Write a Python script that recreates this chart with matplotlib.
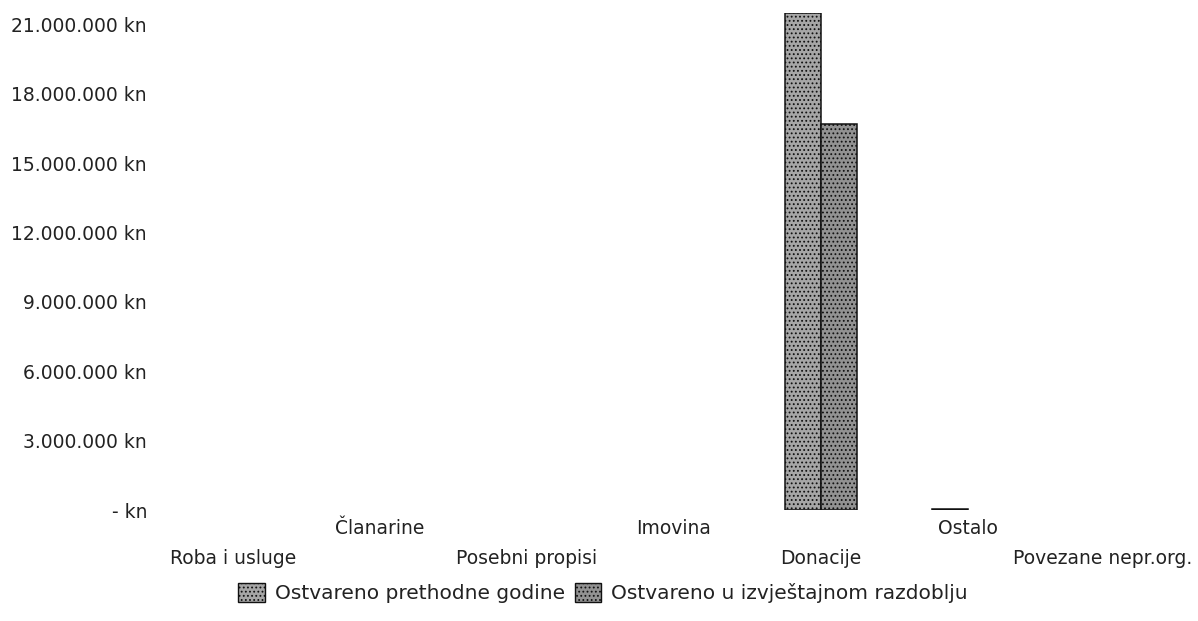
import matplotlib
matplotlib.use("Agg")
import matplotlib.pyplot as plt
from matplotlib.patches import Patch
import numpy as np

categories = ["Roba i usluge", "Članarine", "Posebni propisi", "Imovina",
              "Donacije", "Ostalo", "Povezane nepr.org."]
prev_year = [0, 0, 0, 0, 21500000, 60000, 0]
current = [0, 0, 0, 0, 16700000, 0, 0]
series_names = ["Ostvareno prethodne godine", "Ostvareno u izvještajnom razdoblju"]
yticks = [0, 3000000, 6000000, 9000000, 12000000, 15000000, 18000000, 21000000]

def fmt(v):
    if v == 0:
        return "- kn"
    return f"{v:,.0f}".replace(",", ".") + " kn"

plt.rcParams['font.family'] = ['DejaVu Sans']
plt.rcParams['hatch.color'] = '#d4d4d4'
plt.rcParams['hatch.linewidth'] = 0.8
fig = plt.figure(figsize=(11.98, 6.21), dpi=100)
L, R, B, T = 159.5, 1188.5, 510, 13
ax = fig.add_axes([L/1198, 1-B/621, (R-L)/1198, (B-T)/621])

x = np.arange(len(categories))
w = 0.245
styles = [dict(facecolor="#a6a6a6", hatch="...."),
          dict(facecolor="#929292", hatch="....")]
for k, (vals, off) in enumerate([(prev_year, -w/2), (current, w/2)]):
    edges = ["#111111" if v > 0 else "none" for v in vals]
    ax.bar(x + off, vals, w, edgecolor=edges, linewidth=1.1, **styles[k])

ax.set_xlim(-0.5, len(categories) - 0.5)
ax.set_ylim(0, 21500000)
ax.set_yticks(yticks)
ax.set_yticklabels([fmt(v) for v in yticks], fontsize=13.5, color="#222222")
ax.tick_params(axis="y", length=0, pad=9)
ax.set_xticks([])
for s in ax.spines.values():
    s.set_visible(False)

for i, c in enumerate(categories):
    off = -49 if i % 2 == 0 else -19
    dx = -12 if i == len(categories) - 1 else 0
    ax.annotate(c, xy=(i, 0), xycoords="data", xytext=(dx, off),
                textcoords="offset pixels", ha="center", va="center",
                fontsize=13.5, color="#222222")

handles = [Patch(edgecolor="#111111", linewidth=1.0, **styles[k]) for k in range(2)]
leg = fig.legend(handles, series_names, loc="center",
                 bbox_to_anchor=(603/1198, 1-593/621), ncol=2,
                 frameon=False, fontsize=14.5, handlelength=1.3, handleheight=1.1,
                 handletextpad=0.5, columnspacing=0.5)
for t in leg.get_texts():
    t.set_color("#222222")

fig.savefig("out.png", dpi=100, facecolor="white")
